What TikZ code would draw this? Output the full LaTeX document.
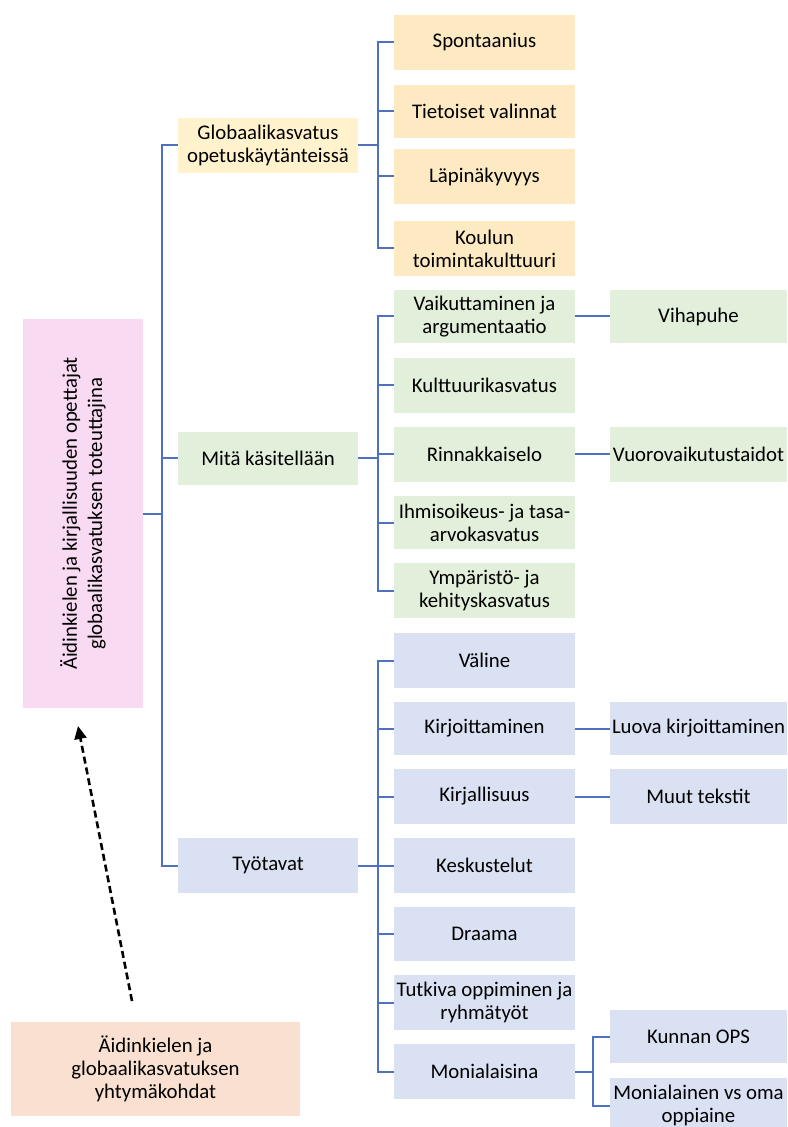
\documentclass[tikz,border=0pt]{standalone}
\usepackage{fontspec}
\setmainfont{Carlito}
\usetikzlibrary{arrows.meta}
\usetikzlibrary{math}
\definecolor{lineblue}{RGB}{79,114,192}
\definecolor{yelone}{HTML}{FFF2CC}
\definecolor{yeltwo}{HTML}{FDE9C2}
\definecolor{greenbox}{HTML}{E2EFDA}
\definecolor{bluebox}{HTML}{D9E1F2}
\definecolor{pinkbox}{HTML}{F8DAF3}
\definecolor{peachbox}{HTML}{F9E0D0}
\def\px{0.5pt}
\tikzset{box/.style={rectangle, inner sep=1pt, align=center, minimum height=55*\px},
	lvone/.style={box, minimum width=180*\px},
	lvtwo/.style={box, minimum width=181*\px},
	lvthree/.style={box, minimum width=177*\px},
	conn/.style={draw=lineblue, line width=2*\px}}

\begin{document}
\begin{tikzpicture}[x=0.5pt,y=-0.5pt,font=\fontsize{10.4}{11.6}\selectfont]
	\tikzmath{\ax=83; \bx=268; \cx=484.5; \dx=698.5;}
	\useasboundingbox (0,0) rectangle (787,1127);
	% root and its note
	\node[box, fill=pinkbox, rotate=90, minimum width=389*\px, minimum height=120*\px] (root) at (\ax,513.5) {Äidinkielen ja kirjallisuuden opettajat\\[1pt] globaalikasvatuksen toteuttajina};
	\node[box, fill=peachbox, minimum width=289*\px, minimum height=94*\px] (yhty) at (155.5,1069) {Äidinkielen ja\\ globaalikasvatuksen\\ yhtymäkohdat};
	% first level
	\node[lvone, fill=yelone] (glob) at (\bx,145.5) {Globaalikasvatus\\ opetuskäytänteissä};
	\node[lvone, fill=greenbox, minimum height=53*\px] (mita) at (\bx,458.5) {Mitä käsitellään};
	\node[lvone, fill=bluebox] (tyo) at (\bx,865.5) {Työtavat};
	% second level
	\node[lvtwo, fill=yeltwo] (spont) at (\cx,42.5) {Spontaanius};
	\node[lvtwo, fill=yeltwo, minimum height=53*\px] (tiet) at (\cx,111.5) {Tietoiset valinnat};
	\node[lvtwo, fill=yeltwo] (lapi) at (\cx,176.5) {Läpinäkyvyys};
	\node[lvtwo, fill=yeltwo] (koulu) at (\cx,248.5) {Koulun\\ toimintakulttuuri};
	\node[lvtwo, fill=greenbox, minimum height=53*\px] (vaik) at (\cx,316.5) {Vaikuttaminen ja\\ argumentaatio};
	\node[lvtwo, fill=greenbox] (kult) at (\cx,385.5) {Kulttuurikasvatus};
	\node[lvtwo, fill=greenbox] (rinn) at (\cx,454.5) {Rinnakkaiselo};
	\node[lvtwo, fill=greenbox, minimum height=53*\px] (ihmi) at (\cx,522.5) {Ihmisoikeus- ja tasa-\\ arvokasvatus};
	\node[lvtwo, fill=greenbox] (ympa) at (\cx,590.5) {Ympäristö- ja\\ kehityskasvatus};
	\node[lvtwo, fill=bluebox] (vali) at (\cx,660.5) {Väline};
	\node[lvtwo, fill=bluebox, minimum height=53*\px] (kirjo) at (\cx,728.5) {Kirjoittaminen};
	\node[lvtwo, fill=bluebox] (kirja) at (\cx,796.5) {Kirjallisuus};
	\node[lvtwo, fill=bluebox] (kesk) at (\cx,865.5) {Keskustelut};
	\node[lvtwo, fill=bluebox, minimum height=54*\px] (draa) at (\cx,934) {Draama};
	\node[lvtwo, fill=bluebox] (tutk) at (\cx,1002.5) {Tutkiva oppiminen ja\\ ryhmätyöt};
	\node[lvtwo, fill=bluebox] (moni) at (\cx,1071.5) {Monialaisina};
	% third level
	\node[lvthree, fill=greenbox, minimum height=53*\px] (viha) at (\dx,316.5) {Vihapuhe};
	\node[lvthree, fill=greenbox] (vuor) at (\dx,454.5) {Vuorovaikutustaidot};
	\node[lvthree, fill=bluebox, minimum height=53*\px] (luova) at (\dx,728.5) {Luova kirjoittaminen};
	\node[lvthree, fill=bluebox] (muut) at (\dx,796.5) {Muut tekstit};
	\node[lvthree, fill=bluebox, minimum height=53*\px] (kunn) at (\dx,1036.5) {Kunnan OPS};
	\node[lvthree, fill=bluebox] (monv) at (\dx,1105.5) {Monialainen vs oma\\ oppiaine};
	% connectors
	\foreach \c in {glob,mita,tyo} \draw[conn] (root.south) -- ++(19,0) |- (\c.west);
	\foreach \c in {spont,tiet,lapi,koulu} \draw[conn] (glob.east) -- ++(20,0) |- (\c.west);
	\foreach \c in {vaik,kult,rinn,ihmi,ympa} \draw[conn] (mita.east) -- ++(20,0) |- (\c.west);
	\foreach \c in {vali,kirjo,kirja,kesk,draa,tutk,moni} \draw[conn] (tyo.east) -- ++(20,0) |- (\c.west);
	\draw[conn] (vaik) -- (viha);
	\draw[conn] (rinn) -- (vuor);
	\draw[conn] (kirjo) -- (luova);
	\draw[conn] (kirja) -- (muut);
	\foreach \c in {kunn,monv} \draw[conn] (moni.east) -- ++(18,0) |- (\c.west);
	% dashed arrow
	\coordinate (arrfrom) at (132,1001);
	\coordinate (arrto) at (78,726);
	\draw[dash pattern=on 3.5pt off 2pt, line width=1.3pt, -{Triangle[length=6.5pt,width=6pt]}] (arrfrom) -- (arrto);
\end{tikzpicture}
\end{document}
